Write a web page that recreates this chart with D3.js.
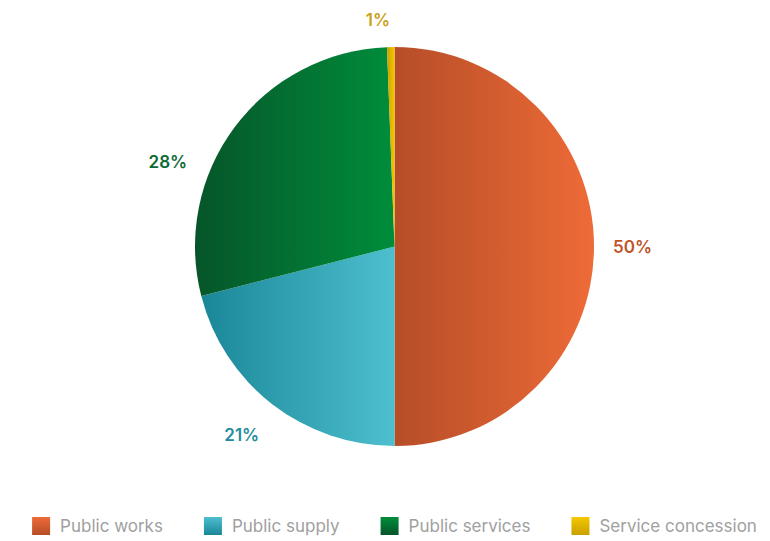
<!DOCTYPE html>
<html><head><meta charset="utf-8">
<script src="https://cdn.jsdelivr.net/npm/d3@7"></script>
<style>html,body{margin:0;padding:0;background:#fff;}svg{display:block;}</style>
</head><body>
<svg id="chart" width="770" height="541"></svg>
<script>
const categories = ["Public works", "Public supply", "Public services", "Service concession"];
const values = [50.0, 21.0, 28.4, 0.6];
const labels = ["50%", "21%", "28%", "1%"];

const gradDark  = ["#b64d27", "#1a8798", "#065529", "#c9a000"];
const gradLight = ["#ee6b37", "#4dbfce", "#008d3b", "#f5c800"];
const labelColors = ["#c0532b", "#1f8d9c", "#0c6a35", "#c9a21a"];
// layout tweaks for label placement (radians / px)
const labelShift = [0, 0.02, -0.283, -0.054];
const labelRadius = [238, 243, 242, 227];

const svg = d3.select("#chart");
const W = 770, H = 541;
const cx = 394.5, cy = 246.5, R = 199.5;

const defs = svg.append("defs");
categories.forEach((c, i) => {
  const g = defs.append("linearGradient").attr("id", "sg" + i)
    .attr("x1", "0%").attr("y1", "0%").attr("x2", "100%").attr("y2", "0%");
  g.append("stop").attr("offset", "0%").attr("stop-color", gradDark[i]);
  g.append("stop").attr("offset", "100%").attr("stop-color", gradLight[i]);
  const l = defs.append("linearGradient").attr("id", "lg" + i)
    .attr("x1", "0%").attr("y1", "0%").attr("x2", "0%").attr("y2", "100%");
  l.append("stop").attr("offset", "0%").attr("stop-color", gradLight[i]);
  l.append("stop").attr("offset", "100%").attr("stop-color", gradDark[i]);
});

const data = categories.map((c, i) => ({cat: c, value: values[i], label: labels[i], i}));
const pie = d3.pie().sort(null).value(d => d.value);
const arcs = pie(data);
const arc = d3.arc().innerRadius(0).outerRadius(R);

const g = svg.append("g").attr("transform", `translate(${cx},${cy})`);
g.selectAll("path.slice").data(arcs).join("path")
  .attr("class", "slice")
  .attr("d", arc)
  .attr("fill", d => `url(#sg${d.data.i})`);

const ang = d => (d.startAngle + d.endAngle) / 2 + labelShift[d.data.i];
g.selectAll("text.lbl").data(arcs).join("text")
  .attr("class", "lbl")
  .attr("x", d => labelRadius[d.data.i] * Math.sin(ang(d)))
  .attr("y", d => -labelRadius[d.data.i] * Math.cos(ang(d)))
  .attr("text-anchor", "middle")
  .attr("dominant-baseline", "central")
  .attr("font-family", "Inter, Roboto, sans-serif")
  .attr("font-size", 17)
  .attr("font-weight", 600)
  .attr("fill", d => labelColors[d.data.i])
  .text(d => d.data.label);

// legend
const leg = svg.append("g");
const items = leg.selectAll("g.item").data(data).join("g").attr("class", "item");
items.append("rect").attr("width", 18).attr("height", 18).attr("y", -9)
  .attr("fill", d => `url(#lg${d.i})`);
items.append("text").attr("x", 28).attr("y", 0)
  .attr("dominant-baseline", "central")
  .attr("font-family", "Inter, Roboto, sans-serif")
  .attr("font-size", 17)
  .attr("fill", "#a0a0a0")
  .text(d => d.cat);
let x = 0;
const gap = 41;
items.each(function() {
  const w = 28 + d3.select(this).select("text").node().getComputedTextLength();
  d3.select(this).attr("transform", `translate(${x},0)`);
  x += w + gap;
});
const total = x - gap;
leg.attr("transform", `translate(${cx - total / 2},526)`);
</script>
</body></html>
